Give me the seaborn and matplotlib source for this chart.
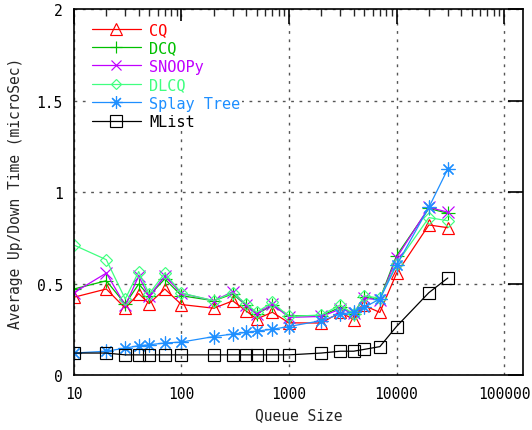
import numpy as np
import pandas as pd
import matplotlib
matplotlib.use("Agg")
import matplotlib.pyplot as plt
from matplotlib.ticker import FixedLocator, NullFormatter, FixedFormatter
import seaborn as sns

# Queue sizes used in the benchmark
queue_size = [10, 20, 30, 40, 50, 70, 100, 200, 300, 400, 500, 700,
              1000, 2000, 3000, 4000, 5000, 7000, 10000, 20000, 30000]

# Average up/down time per operation (microseconds)
cq = [0.425, 0.47, 0.365, 0.445, 0.39, 0.47, 0.385, 0.365, 0.405, 0.35, 0.306, 0.343,
      0.285, 0.284, 0.343, 0.303, 0.38, 0.342, 0.555, 0.82, 0.805]
dcq = [0.47, 0.515, 0.388, 0.497, 0.433, 0.525, 0.433, 0.406, 0.443, 0.38, 0.333, 0.38,
       0.324, 0.324, 0.37, 0.333, 0.425, 0.415, 0.652, 0.91, 0.884]
snoopy = [0.45, 0.557, 0.38, 0.54, 0.43, 0.54, 0.446, 0.406, 0.455, 0.38, 0.333, 0.388,
          0.315, 0.32, 0.36, 0.34, 0.42, 0.41, 0.64, 0.916, 0.89]
dlcq = [0.71, 0.63, 0.415, 0.565, 0.443, 0.557, 0.448, 0.406, 0.45, 0.388, 0.343, 0.397,
        0.32, 0.328, 0.383, 0.333, 0.433, 0.42, 0.607, 0.86, 0.843]
splay = [0.12, 0.13, 0.147, 0.16, 0.165, 0.175, 0.18, 0.21, 0.224, 0.233, 0.24, 0.25,
         0.265, 0.297, 0.333, 0.343, 0.37, 0.415, 0.6, 0.916, 1.126]
mlist = [0.12, 0.12, 0.11, 0.11, 0.11, 0.11, 0.11, 0.11, 0.11, 0.11, 0.11, 0.11,
         0.11, 0.12, 0.13, 0.13, 0.14, 0.155, 0.265, 0.45, 0.53]

series_names = ["CQ", "DCQ", "SNOOPy", "DLCQ", "Splay Tree", "MList"]
series_values = [cq, dcq, snoopy, dlcq, splay, mlist]

x_tick_values = [10, 100, 1000, 10000, 100000]
x_tick_labels = ["10", "100", "1000", "10000", "100000"]
y_tick_values = [0, 0.5, 1, 1.5, 2]
y_tick_labels = ["0", "0.5", "1", "1.5", "2"]

df = pd.DataFrame({
    "size": np.tile(queue_size, len(series_names)),
    "time": np.concatenate(series_values),
    "algo": np.repeat(series_names, len(queue_size)),
})

sns.set_style("white")
plt.rcParams["font.family"] = ["DejaVu Sans Mono"]

styles = {
    "CQ":         dict(color="#ff0000", marker="^", ms=9, mfc="none"),
    "DCQ":        dict(color="#00c000", marker="+", ms=10),
    "SNOOPy":     dict(color="#c000ff", marker="x", ms=8),
    "DLCQ":       dict(color="#40ff80", marker="D", ms=6, mfc="none"),
    "Splay Tree": dict(color="#1e8fff", marker=(8, 2, 0), ms=10),
    "MList":      dict(color="#000000", marker="s", ms=9, mfc="none"),
}

fig = plt.figure(figsize=(5.32, 4.31), dpi=100)
ax = fig.add_axes([0.139, 0.1276, 0.844, 0.8492])

for name in series_names:
    st = styles[name]
    sns.lineplot(data=df[df["algo"] == name], x="size", y="time", ax=ax,
                 label=name, color=st["color"], lw=0.9, marker=st["marker"],
                 markersize=st["ms"], markerfacecolor=st.get("mfc", st["color"]),
                 markeredgecolor=st["color"], markeredgewidth=0.85,
                 errorbar=None)

ax.set_xscale("log")
ax.set_xlim(10, 1.5e5)
ax.set_ylim(0, 2)

ax.xaxis.set_major_locator(FixedLocator(x_tick_values))
ax.xaxis.set_major_formatter(FixedFormatter(x_tick_labels))
minor = [m * 10 ** e for e in range(1, 6) for m in range(2, 10) if m * 10 ** e <= 1.5e5]
ax.xaxis.set_minor_locator(FixedLocator(minor))
ax.xaxis.set_minor_formatter(NullFormatter())
ax.yaxis.set_major_locator(FixedLocator(y_tick_values))
ax.yaxis.set_major_formatter(FixedFormatter(y_tick_labels))

ax.tick_params(which="major", direction="in", length=11, width=1.2,
               top=True, right=True, labelsize=10.5, pad=8, colors="black")
ax.tick_params(which="minor", direction="in", length=5, width=1.0,
               top=True, right=True)

for sp in ax.spines.values():
    sp.set_visible(True)
    sp.set_color("black")
    sp.set_linewidth(1.2)

ax.grid(True, which="major", linestyle=(0, (2, 4)), color="#555555", lw=1.0)
ax.set_axisbelow(True)

ax.set_xlabel("Queue Size", fontsize=10.5, labelpad=4)
ax.set_ylabel("Average Up/Down Time (microSec)", fontsize=10.5, labelpad=10)

# White key box sits just below the top tick marks so they stay visible
leg = ax.legend(loc="upper left", bbox_to_anchor=(0.026, 0.981), frameon=True,
                fontsize=11, handlelength=3.2, handletextpad=0.55,
                labelspacing=0.22, borderaxespad=0.3, borderpad=0.1,
                fancybox=False, facecolor="white", edgecolor="none",
                framealpha=1.0, markerscale=0.9)
for txt, name in zip(leg.get_texts(), series_names):
    txt.set_color(styles[name]["color"])

fig.savefig("out.png", dpi=100, facecolor="white")
